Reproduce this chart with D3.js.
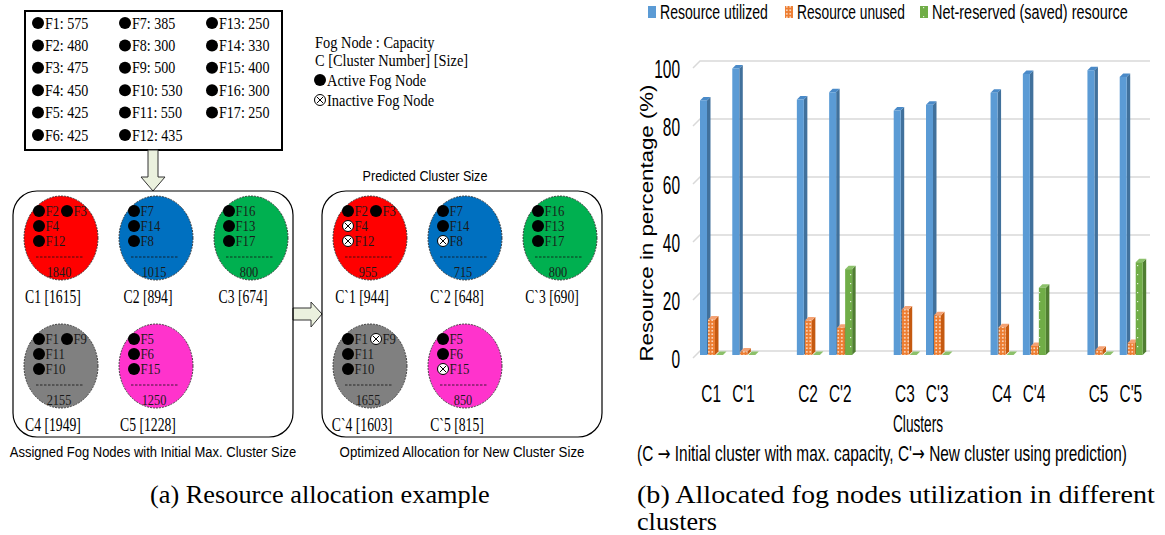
<!DOCTYPE html>
<html>
<head>
<meta charset="utf-8">
<script src="https://cdn.jsdelivr.net/npm/d3@7"></script>
<style>
  body { margin: 0; background: #fff; }
  svg { display: block; }
</style>
</head>
<body>
<svg id="fig" width="1165" height="535"></svg>
<script>
// ---- data: fog nodes and clusters (left panel) ----
const fogNames = ["F1","F2","F3","F4","F5","F6","F7","F8","F9","F10","F11","F12","F13","F14","F15","F16","F17"]
const fogCapacity = [575,480,475,450,425,425,385,300,500,530,550,435,250,330,400,300,250]
const clusterRows = [
    [["F2","F3"],["F4"],["F12"]],
    [["F7"],["F14"],["F8"]],
    [["F16"],["F13"],["F17"]],
    [["F1","F9"],["F11"],["F10"]],
    [["F5"],["F6"],["F15"]]
]
const clusterColors = ["#ff0000","#0070c0","#00b050","#808080","#ff33cc"]
const initialMax = [1840,1015,800,2155,1250]
const initialSize = [1615,894,674,1949,1228]
const predictedMax = [955,715,800,1655,850]
const predictedSize = [944,648,690,1603,815]
const inactiveNodes = ["F4","F12","F8","F9","F15"]

// ---- data: bar chart (right panel) ----
const categories = ["C1","C'1","C2","C'2","C3","C'3","C4","C'4","C5","C'5"]
const seriesNames = ["Resource utilized","Resource unused","Net-reserved (saved) resource"]
const utilized = [87.8,98.8,88.1,90.6,84.3,86.3,90.4,96.9,98.2,95.9]
const unused = [12.2,1.2,11.9,9.4,15.7,13.7,9.6,3.1,1.8,4.1]
const saved = [0,0,0,29.6,0,0,0,23.2,0,32]
const yTicks = [0,20,40,60,80,100]

const serif = "'Liberation Serif','Times New Roman',serif"
const sans = "'Liberation Sans',Arial,sans-serif"

const svg = d3.select("#fig")

// squeeze a text horizontally (by factor, or to a target width) with a transform
function condense(sel, k, target) {
    sel.each(function () {
        const t = d3.select(this)
        const x0 = +t.attr("x") || 0, y0 = +t.attr("y") || 0
        const w = this.getComputedTextLength()
        const f = target ? target / w : k
        t.attr("x", 0).attr("y", 0).attr("transform", `translate(${x0},${y0}) scale(${f},1)`)
    })
}

function activeDot(g, x, y) {
    g.append("circle").attr("cx", x).attr("cy", y).attr("r", 6).attr("fill", "#000")
}
function inactiveDot(g, x, y) {
    g.append("circle").attr("cx", x).attr("cy", y).attr("r", 5.5)
        .attr("fill", "#fff").attr("stroke", "#000").attr("stroke-width", 1)
    g.append("path").attr("d", `M${x-3},${y-3}L${x+3},${y+3}M${x+3},${y-3}L${x-3},${y+3}`)
        .attr("stroke", "#000").attr("stroke-width", 1)
}

// ================= left: resource allocation example =================
const left = svg.append("g")

// capacity list box
left.append("rect").attr("x", 25).attr("y", 11).attr("width", 257).attr("height", 139)
    .attr("fill", "#fff").attr("stroke", "#000").attr("stroke-width", 2)
const colX = d3.scalePoint().domain([0, 1, 2]).range([38, 212])
const rowY = d3.scalePoint().domain(d3.range(6)).range([23, 135])
fogNames.forEach((n, i) => {
    const cx = colX(Math.floor(i / 6)), cy = rowY(i % 6)
    activeDot(left, cx, cy)
    left.append("text").attr("x", cx + 7).attr("y", cy).attr("dy", "0.35em")
        .attr("font-family", serif).attr("font-size", 16).text(`${n}: ${fogCapacity[i]}`)
        .call(condense, 0.88)
})

// key
const keyLines = ["Fog Node : Capacity", "C [Cluster Number] [Size]"]
keyLines.forEach((t, i) => {
    left.append("text").attr("x", 315).attr("y", 42 + i * 18).attr("dy", "0.35em")
        .attr("font-family", serif).attr("font-size", 16).text(t).call(condense, 0.9)
})
activeDot(left, 320, 80)
left.append("text").attr("x", 327).attr("y", 80).attr("dy", "0.35em")
    .attr("font-family", serif).attr("font-size", 16).text("Active Fog Node").call(condense, 0.9)
inactiveDot(left, 320, 100)
left.append("text").attr("x", 327).attr("y", 100).attr("dy", "0.35em")
    .attr("font-family", serif).attr("font-size", 16).text("Inactive Fog Node").call(condense, 0.9)

// arrows
const arrowFill = "#ebf1de"
left.append("path").attr("d", "M148,150L158,150L158,177L165,177L153,191L141,177L148,177Z")
    .attr("fill", arrowFill).attr("stroke", "#333").attr("stroke-width", 1)
left.append("path").attr("d", "M293,308L311,308L311,302L322,314L311,327L311,320L293,320Z")
    .attr("fill", arrowFill).attr("stroke", "#333").attr("stroke-width", 1)

function drawPanel(ox, maxes, sizes, prime, showInactive, caption, captionW) {
    const g = left.append("g").attr("transform", `translate(${ox},0)`)
    g.append("rect").attr("x", 13).attr("y", 191).attr("width", 280).attr("height", 246)
        .attr("rx", 24).attr("fill", "none").attr("stroke", "#000").attr("stroke-width", 1.2)
    const cxs = d3.scalePoint().domain([0, 1, 2]).range([61, 251])
    const cys = d3.scalePoint().domain([0, 1]).range([238, 366])
    clusterRows.forEach((rows, k) => {
        const cx = cxs(k % 3), cy = cys(Math.floor(k / 3))
        g.append("ellipse").attr("cx", cx).attr("cy", cy).attr("rx", 37).attr("ry", 42)
            .attr("fill", clusterColors[k]).attr("stroke", "#222").attr("stroke-width", 0.8)
            .attr("stroke-dasharray", "2,1")
        rows.forEach((row, r) => {
            const y = cy - 27 + r * 15
            row.forEach((n, j) => {
                const x = cx - 22 + j * 28
                if (showInactive && inactiveNodes.includes(n)) inactiveDot(g, x, y)
                else activeDot(g, x, y)
                g.append("text").attr("x", x + 6.5).attr("y", y).attr("dy", "0.35em")
                    .attr("font-family", serif).attr("font-size", 15).attr("fill", "#1a1a1a").text(n)
                    .call(condense, 0.85)
            })
        })
        g.append("line").attr("x1", cx - 25).attr("x2", cx + 23).attr("y1", cy + 19).attr("y2", cy + 19)
            .attr("stroke", "#111").attr("stroke-width", 0.8).attr("stroke-dasharray", "2.5,1.5")
        g.append("text").attr("x", cx - 2).attr("y", cy + 34).attr("dy", "0.35em")
            .attr("text-anchor", "middle").attr("font-family", serif).attr("font-size", 14.5)
            .attr("fill", "#1a1a1a").text(maxes[k]).call(condense, 0.85)
        g.append("text").attr("x", cx - 8).attr("y", cy + 58).attr("dy", "0.35em")
            .attr("text-anchor", "middle").attr("font-family", serif).attr("font-size", 19)
            .text(`C${prime}${k + 1} [${sizes[k]}]`).call(condense, 0.72)
    })
    g.append("text").attr("x", 153).attr("y", 452).attr("dy", "0.35em")
        .attr("text-anchor", "middle").attr("font-family", sans).attr("font-size", 15).text(caption)
        .call(condense, 1, captionW)
    return g
}
drawPanel(0, initialMax, initialSize, "", false, "Assigned Fog Nodes with Initial Max. Cluster Size", 287)
drawPanel(309, predictedMax, predictedSize, "`", true, "Optimized Allocation for New Cluster Size", 245)
left.append("text").attr("x", 425).attr("y", 176).attr("dy", "0.35em").attr("text-anchor", "middle")
    .attr("font-family", sans).attr("font-size", 15).text("Predicted Cluster Size").call(condense, 1, 125)

// ================= right: bar chart =================
const chart = svg.append("g")
const defs = svg.append("defs")
const pOr = defs.append("pattern").attr("id", "pOrange").attr("patternUnits", "userSpaceOnUse")
    .attr("width", 3.5).attr("height", 3.5)
pOr.append("rect").attr("width", 3.5).attr("height", 3.5).attr("fill", "#ed7d31")
pOr.append("rect").attr("x", 1).attr("y", 1).attr("width", 1.6).attr("height", 1.6).attr("fill", "#fde3cf")
const pGr = defs.append("pattern").attr("id", "pGreen").attr("patternUnits", "userSpaceOnUse")
    .attr("width", 7).attr("height", 9)
pGr.append("rect").attr("width", 7).attr("height", 9).attr("fill", "#70ad47")
pGr.append("rect").attr("x", 3).attr("y", 4).attr("width", 1.2).attr("height", 1.2).attr("fill", "#e2f0d9")

const seriesFront = ["#5b9bd5", "url(#pOrange)", "url(#pGreen)"]
const seriesSide = ["#41719c", "#c55a11", "#507e32"]
const seriesTop = ["#4a8ac8", "#f4a274", "#8cc16a"]
const seriesValues = [utilized, unused, saved]

const slots = []
categories.forEach((c, i) => { slots.push(c); if (i % 2 === 1 && i < categories.length - 1) slots.push("gap" + i) })
const x = d3.scaleBand().domain(slots).range([694, 1146]).paddingInner(0).paddingOuter(0)
const xs = d3.scaleBand().domain(d3.range(3)).range([6, 30])
const y = d3.scaleLinear().domain([0, 100]).range([355, 65])
const depth = 3.5, bw = 7

// back grid with perspective
chart.append("g").selectAll("path").data(yTicks).join("path")
    .attr("d", t => `M693,${y(t) + 3}L700,${y(t) - 4}L1150,${y(t) - 4}`)
    .attr("fill", "none").attr("stroke", "#d9d9d9").attr("stroke-width", 1.5)

// y axis labels
const yAxis = chart.append("g").attr("transform", "translate(680,4)")
    .call(d3.axisLeft(y).tickValues(yTicks).tickSize(0).tickPadding(0))
yAxis.select(".domain").remove()
yAxis.selectAll("text").attr("font-family", sans).attr("font-size", 25).attr("fill", "#000")
    .call(condense, 0.62)

chart.append("text").attr("x", 0).attr("y", 0).attr("transform", "translate(647,223) rotate(-90)")
    .attr("text-anchor", "middle").attr("dy", "0.35em").attr("font-family", sans).attr("font-size", 18.5)
    .attr("fill", "#000").attr("textLength", 277).attr("lengthAdjust", "spacingAndGlyphs")
    .text("Resource in percentage (%)")

// 3D bars
const bars = []
categories.forEach((c, i) => seriesValues.forEach((vals, s) => bars.push({ c, s, v: vals[i] })))
const barG = chart.append("g").selectAll("g").data(bars).join("g")
barG.each(function (d) {
    const g = d3.select(this)
    const x0 = x(d.c) + xs(d.s), yt = y(d.v), yb = y(0)
    g.append("path")
        .attr("d", `M${x0 + bw},${yt}L${x0 + bw + depth},${yt - depth}L${x0 + bw + depth},${yb - depth}L${x0 + bw},${yb}Z`)
        .attr("fill", seriesSide[d.s])
    g.append("path")
        .attr("d", `M${x0},${yt}L${x0 + depth},${yt - depth}L${x0 + bw + depth},${yt - depth}L${x0 + bw},${yt}Z`)
        .attr("fill", seriesTop[d.s])
    g.append("rect").attr("x", x0).attr("y", yt).attr("width", bw).attr("height", yb - yt)
        .attr("fill", seriesFront[d.s])
})

// x labels
chart.append("g").selectAll("text").data(categories).join("text")
    .attr("x", d => x(d) + x.bandwidth() / 2 + 1).attr("y", 394).attr("dy", "0.35em")
    .attr("text-anchor", "middle").attr("font-family", sans).attr("font-size", 24).text(d => d)
    .call(condense, 0.64)
chart.append("text").attr("x", 918).attr("y", 424).attr("dy", "0.35em").attr("text-anchor", "middle")
    .attr("font-family", sans).attr("font-size", 23).text("Clusters").call(condense, 1, 50)
const foot = chart.append("text").attr("x", 882).attr("y", 453).attr("dy", "0.35em").attr("text-anchor", "middle")
    .attr("font-family", sans).attr("font-size", 22)
foot.append("tspan").text("(C ")
foot.append("tspan").attr("font-family", "'DejaVu Sans'").text("\u2192")
foot.append("tspan").text(" Initial cluster with max. capacity,  C'")
foot.append("tspan").attr("font-family", "'DejaVu Sans'").text("\u2192")
foot.append("tspan").text(" New cluster using prediction)")
foot.call(condense, 1, 490)

// legend
const legendX = [648, 785, 920]
const legendW = [108, 108, 196]
seriesNames.forEach((n, i) => {
    const lg = chart.append("g").attr("transform", `translate(${legendX[i]},12)`)
    lg.append("rect").attr("x", 0).attr("y", -6).attr("width", 8).attr("height", 12).attr("fill", seriesFront[i])
    lg.append("text").attr("x", 12).attr("y", 0).attr("dy", "0.35em").attr("font-family", sans)
        .attr("font-size", 21).text(n).call(condense, 1, legendW[i])
})

// sub-figure captions
svg.append("text").attr("x", 150).attr("y", 494).attr("dy", "0.35em").attr("font-family", serif)
    .attr("font-size", 25).text("(a) Resource allocation example").call(condense, 1, 340)
svg.append("text").attr("x", 637).attr("y", 494).attr("dy", "0.35em").attr("font-family", serif)
    .attr("font-size", 25).text("(b) Allocated fog nodes utilization in different").call(condense, 1, 518)
svg.append("text").attr("x", 637).attr("y", 521).attr("dy", "0.35em").attr("font-family", serif)
    .attr("font-size", 25).text("clusters").call(condense, 1, 80)
</script>
</body>
</html>
